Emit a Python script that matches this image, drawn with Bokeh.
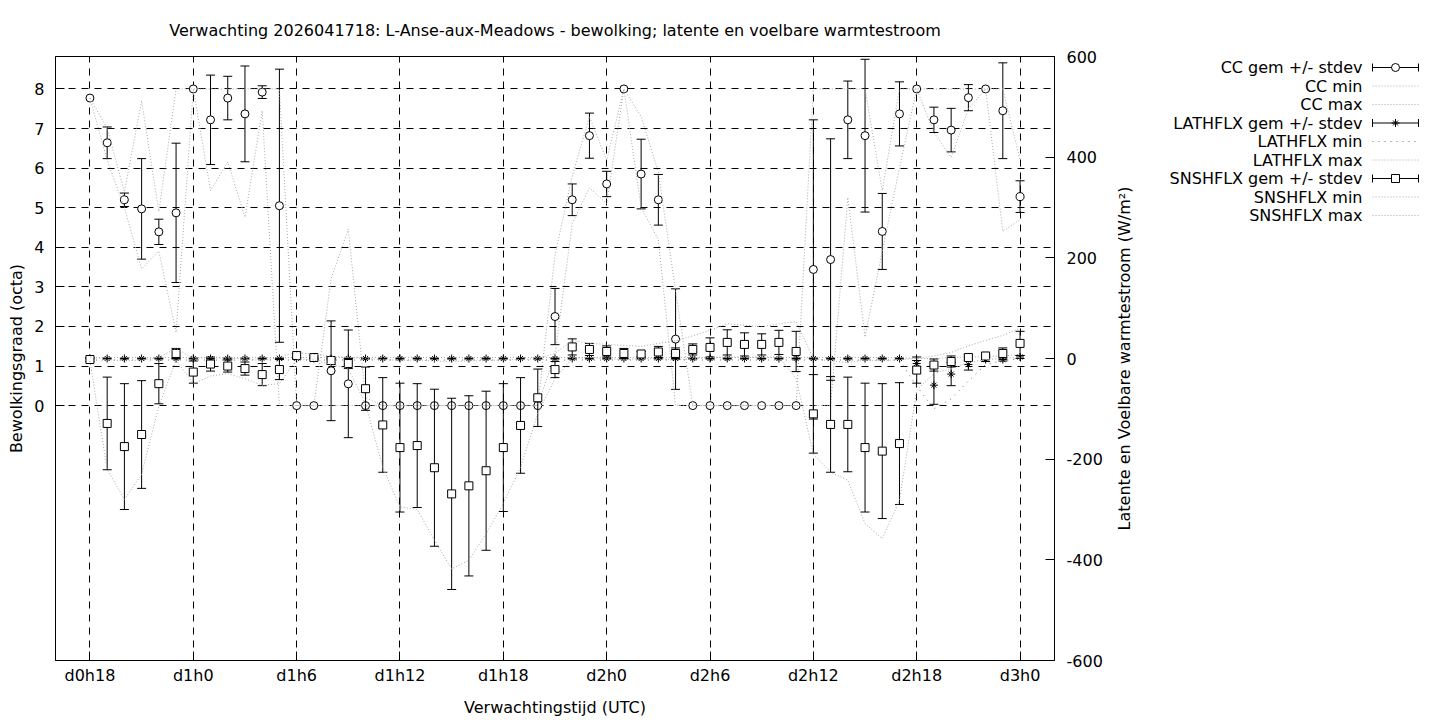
import math
from bokeh.plotting import figure
from bokeh.models import Range1d, LinearAxis, FixedTicker
from bokeh.layouts import row
from bokeh.embed import file_html
from bokeh.resources import INLINE
from bokeh.core.properties import value

# ---------------- data ----------------
hours = list(range(18, 73))
tick_hours = [18, 24, 30, 36, 42, 48, 54, 60, 66, 72]
tick_labels = ["d0h18", "d1h0", "d1h6", "d1h12", "d1h18", "d2h0", "d2h6", "d2h12", "d2h18", "d3h0"]
cc_ticks = [0, 1, 2, 3, 4, 5, 6, 7, 8]
flux_ticks = [-600, -400, -200, 0, 200, 400, 600]
flux_tick_labels = ["-600", "-400", "-200", "0", "200", "400", "600"]

cc_mean = [7.77, 6.64, 5.20, 4.97, 4.39, 4.87, 8.00, 7.22, 7.77, 7.37, 7.92, 5.05, 0.00, 0.00, 0.88, 0.55, 0.00,
           0.00, 0.00, 0.00, 0.00, 0.00, 0.00, 0.00, 0.00, 0.00, 0.00,
           2.25, 5.20, 6.82, 5.60, 8.00, 5.85, 5.20, 1.68,
           0.00, 0.00, 0.00, 0.00, 0.00, 0.00, 0.00,
           3.44, 3.69, 7.22, 6.82, 4.40, 7.37, 8.00, 7.22, 6.96, 7.78, 8.00, 7.45, 5.28]
cc_sd = [0.00, 0.40, 0.17, 1.27, 0.32, 1.76, 0.00, 1.13, 0.55, 1.21, 0.16, 3.45, 0.00, 0.00, 1.26, 1.36, 0.00,
         0.00, 0.00, 0.00, 0.00, 0.00, 0.00, 0.00, 0.00, 0.00, 0.00,
         0.71, 0.40, 0.57, 0.32, 0.00, 0.88, 0.64, 1.27,
         0.00, 0.00, 0.00, 0.00, 0.00, 0.00, 0.00,
         3.78, 3.05, 0.98, 1.93, 0.96, 0.81, 0.00, 0.32, 0.55, 0.33, 0.00, 1.21, 0.40]
cc_min = [7.77, 6.20, 5.00, 3.45, 3.90, 1.85, 8.00, 5.43, 6.15, 4.76, 7.45, 0.00, 0.00, 0.00, 0.00, 0.00, 0.00,
          0.00, 0.00, 0.00, 0.00, 0.00, 0.00, 0.00, 0.00, 0.00, 0.00,
          1.30, 4.60, 5.50, 5.10, 8.00, 5.00, 4.20, 0.00,
          0.00, 0.00, 0.00, 0.00, 0.00, 0.00, 0.00,
          0.00, 0.00, 5.26, 1.73, 3.90, 6.00, 8.00, 6.90, 6.27, 7.50, 8.00, 4.40, 4.70]
cc_max = [7.77, 7.00, 5.40, 7.70, 4.90, 8.00, 8.00, 8.00, 8.00, 8.00, 8.00, 8.00, 0.00, 0.00, 3.20, 4.46, 0.20,
          0.00, 0.00, 0.00, 0.00, 0.00, 0.00, 0.00, 0.00, 0.00, 0.00,
          3.80, 5.80, 7.30, 6.20, 8.00, 7.30, 5.90, 2.90,
          0.00, 0.00, 0.00, 0.00, 0.00, 0.00, 0.00,
          8.00, 8.00, 8.00, 8.00, 5.43, 8.00, 8.00, 8.00, 8.00, 8.00, 8.00, 8.00, 6.20]

lat_mean = [0, 0, 0, 0, 0, 0, 0, 0, 0, 0, 0, 0, 0, 0, 0, 0, 0,
            0, 0, 0, 0, 0, 0, 0, 0, 0, 0,
            0, 0, 0, 0, 0, 0, 0, 0,
            0, 0, 0, 0, 0, 0, 0,
            0, 0, 0, 0, 0, 0, -10, -53, -31, -12, -2, -2, 3]
lat_sd = [1, 1, 1, 1, 1, 1, 1, 1, 1, 1, 1, 1, 1, 1, 1, 1, 1,
          1, 1, 1, 1, 1, 1, 1, 1, 1, 1,
          1, 1, 1, 1, 1, 1, 1, 1,
          1, 1, 1, 1, 1, 1, 1,
          1, 1, 1, 1, 1, 1, 6, 38, 23, 11, 4, 3, 3]
lat_min = [-3, -3, -3, -3, -3, -3, -3, -3, -3, -3, -3, -3, -3, -3, -3, -3, -3,
           -3, -3, -3, -3, -3, -3, -3, -3, -3, -3,
           -3, -3, -3, -3, -3, -3, -3, -3,
           -3, -3, -3, -3, -3, -3, -3,
           -3, -3, -3, -3, -3, -3, -55, -100, -80, -45, -12, -4, -1]
lat_max = [2, 2, 2, 2, 2, 2, 2, 2, 2, 2, 2, 2, 2, 2, 2, 2, 2,
           2, 2, 2, 2, 2, 2, 2, 2, 2, 2,
           2, 2, 2, 2, 2, 2, 2, 2,
           2, 2, 2, 2, 2, 2, 2,
           2, 2, 2, 2, 2, 2, 0, 0, 2, 3, 4, 5, 8]

sns_mean = [-2, -129, -175, -151, -50, 10, -27, -11, -15, -20, -32, -22, 6, 2, -4, -10, -60,
            -132, -177, -173, -217, -269, -253, -223, -177, -133, -78,
            -22, 23, 18, 14, 10, 9, 13, 10,
            18, 22, 32, 28, 28, 32, 14,
            -110, -131, -131, -177, -184, -169, -23, -13, -6, 2, 5, 10, 30]
sns_sd = [4, 92, 125, 107, 40, 10, 22, 14, 12, 13, 22, 20, 4, 3, 8, 10, 43,
          94, 128, 123, 156, 190, 179, 158, 127, 95, 57,
          16, 16, 12, 11, 10, 5, 11, 11,
          11, 19, 25, 23, 21, 24, 40,
          78, 95, 94, 128, 134, 121, 26, 12, 11, 6, 3, 11, 24]
sns_min = [-5, -220, -280, -230, -95, -3, -50, -35, -30, -40, -53, -50, -2, -3, -12, -20, -90,
           -216, -295, -300, -361, -418, -401, -348, -288, -216, -109,
           -40, 0, 2, 0, -2, 0, 0, -3,
           0, 2, 3, 3, 3, 3, -40,
           -190, -226, -242, -328, -358, -282, -63, -30, -20, -8, -2, 0, 2]
sns_max = [3, -2, -5, -3, 2, 20, 0, 2, 0, 0, -5, 3, 12, 8, 5, 2, 0,
           -2, -4, -3, -5, -6, -5, -4, -3, -2, 0,
           10, 36, 30, 28, 26, 24, 30, 35,
           45, 56, 69, 66, 63, 69, 73,
           0, -5, -8, -3, -5, -2, 0, 5, 12, 25, 36, 46, 60]

legend_labels = ["CC gem +/- stdev", "CC min", "CC max",
                 "LATHFLX gem +/- stdev", "LATHFLX min", "LATHFLX max",
                 "SNSHFLX gem +/- stdev", "SNSHFLX min", "SNSHFLX max"]

TITLE = "Verwachting 2026041718: L-Anse-aux-Meadows - bewolking; latente en voelbare warmtestroom"
X_LABEL = "Verwachtingstijd (UTC)"
Y_LABEL = "Bewolkingsgraad (octa)"
Y2_LABEL = "Latente en Voelbare warmtestroom (W/m\u00b2)"
FONT = "DejaVu Sans"
FS = "16px"
GRAY = "#a8a8a8"
DOT = "1 2"
LAT_MIN_COLOR = "#707070"
LAT_MIN_DOT = "1 5"

# layout (page pixels; page margin is 0)
H = 720
F_TOP, F_BOT, F_LEFT, F_RIGHT = 56, 660, 55, 1054
MAIN_W = 1112
LEG_W = 1440 - MAIN_W

# ---------------- main figure ----------------
p = figure(width=MAIN_W, height=H, x_range=Range1d(16, 74), y_range=Range1d(-6.44, 8.82),
           output_backend="svg", toolbar_location=None, title=TITLE,
           min_border_left=F_LEFT, min_border_top=F_TOP,
           min_border_right=MAIN_W - F_RIGHT, min_border_bottom=H - F_BOT)
p.extra_y_ranges = {"flux": Range1d(-600, 600)}
p.background_fill_color = "white"
p.border_fill_color = "white"
p.outline_line_color = "black"
p.outline_line_width = 1

p.title.text_font = FONT
p.title.text_font_size = FS
p.title.text_font_style = "normal"
p.title.text_color = "black"
p.title.align = "center"
p.title.standoff = 34

right_axis = LinearAxis(y_range_name="flux", ticker=FixedTicker(ticks=flux_ticks))
right_axis.major_label_overrides = {t: l for t, l in zip(flux_ticks, flux_tick_labels)}
p.add_layout(right_axis, "right")

p.xaxis.ticker = FixedTicker(ticks=tick_hours)
p.xaxis.major_label_overrides = {h: l for h, l in zip(tick_hours, tick_labels)}
p.xaxis.axis_label = X_LABEL
p.yaxis[0].ticker = FixedTicker(ticks=cc_ticks)
p.yaxis[0].axis_label = Y_LABEL

for ax in [p.xaxis[0], p.yaxis[0], right_axis]:
    ax.major_tick_in = 9
    ax.major_tick_out = 0
    ax.minor_tick_line_color = None
    ax.axis_line_color = "black"
    ax.major_tick_line_color = "black"
    ax.major_label_text_font = FONT
    ax.major_label_text_font_size = FS
    ax.major_label_text_color = "black"
    ax.axis_label_text_font = FONT
    ax.axis_label_text_font_size = FS
    ax.axis_label_text_font_style = "normal"
    ax.axis_label_text_color = "black"

p.xaxis.major_label_standoff = 5
p.xaxis.axis_label_standoff = 10
p.yaxis[0].major_label_standoff = 11
p.yaxis[0].axis_label_standoff = 5
right_axis.major_label_standoff = 12

p.xgrid.ticker = FixedTicker(ticks=tick_hours)
p.ygrid.ticker = FixedTicker(ticks=cc_ticks)
for g in [p.xgrid[0], p.ygrid[0]]:
    g.grid_line_color = "black"
    g.grid_line_dash = "7 6"
    g.grid_line_width = 1


def errorbars(fig, x, mean, sd, rng="default"):
    xs = [h for h, s in zip(x, sd) if s > 0]
    lo = [m - s for m, s in zip(mean, sd) if s > 0]
    hi = [m + s for m, s in zip(mean, sd) if s > 0]
    fig.segment(x0=xs, y0=lo, x1=xs, y1=hi, line_color="black", line_width=1, y_range_name=rng)
    fig.scatter(xs, lo, marker="dash", size=9, line_color="black", line_width=1, y_range_name=rng)
    fig.scatter(xs, hi, marker="dash", size=9, line_color="black", line_width=1, y_range_name=rng)


# CC
errorbars(p, hours, cc_mean, cc_sd)
p.scatter(hours, cc_mean, marker="circle", size=8, line_color="black", fill_color="white", line_width=1)
p.line(hours, cc_min, line_color=GRAY, line_dash=DOT, line_width=1)
p.line(hours, cc_max, line_color=GRAY, line_dash=DOT, line_width=1)

# LATHFLX
errorbars(p, hours, lat_mean, lat_sd, "flux")
p.scatter(hours, lat_mean, marker="cross", size=8, line_color="black", line_width=1, y_range_name="flux")
p.scatter(hours, lat_mean, marker="x", size=7, line_color="black", line_width=1, y_range_name="flux")
p.line(hours, lat_min, line_color=LAT_MIN_COLOR, line_dash=LAT_MIN_DOT, line_width=1, y_range_name="flux")
p.line(hours, lat_max, line_color=GRAY, line_dash=DOT, line_width=1, y_range_name="flux")

# SNSHFLX
errorbars(p, hours, sns_mean, sns_sd, "flux")
p.scatter(hours, sns_mean, marker="square", size=8, line_color="black", fill_color="white", line_width=1,
          y_range_name="flux")
p.line(hours, sns_min, line_color=GRAY, line_dash=DOT, line_width=1, y_range_name="flux")
p.line(hours, sns_max, line_color=GRAY, line_dash=DOT, line_width=1, y_range_name="flux")

# ---------------- side panel: right axis title + legend (data units = page pixels) ----------------
leg = figure(width=LEG_W, height=H, x_range=Range1d(MAIN_W, 1440), y_range=Range1d(F_BOT, F_TOP),
             output_backend="svg", toolbar_location=None, x_axis_location=None, y_axis_location=None,
             min_border_left=0, min_border_right=0, min_border_top=F_TOP, min_border_bottom=H - F_BOT)
leg.grid.visible = False
leg.outline_line_color = None
leg.background_fill_color = "white"
leg.border_fill_color = "white"

leg.text(x=[1124], y=[(F_TOP + F_BOT) / 2], text=[Y2_LABEL], angle=math.pi / 2,
         text_align="center", text_baseline="middle",
         text_font=value(FONT), text_font_size=FS, text_color="black")

n = len(legend_labels)
row_y = [67 + 18.5 * i for i in range(n)]
text_x = [1362] * n
leg.text(x=text_x, y=row_y, text=legend_labels, text_align="right", text_baseline="middle",
         text_font=value(FONT), text_font_size=FS, text_color="black")

x0, x1 = 1372, 1418
xc = (x0 + x1) / 2
err_rows = [row_y[0], row_y[3], row_y[6]]
leg.segment(x0=[x0] * 3, y0=err_rows, x1=[x1] * 3, y1=err_rows, line_color="black", line_width=1)
leg.segment(x0=[x0] * 3, y0=[y - 4 for y in err_rows], x1=[x0] * 3, y1=[y + 4 for y in err_rows],
            line_color="black", line_width=1)
leg.segment(x0=[x1] * 3, y0=[y - 4 for y in err_rows], x1=[x1] * 3, y1=[y + 4 for y in err_rows],
            line_color="black", line_width=1)
leg.scatter([xc], [row_y[0]], marker="circle", size=8, line_color="black", fill_color="white")
leg.scatter([xc], [row_y[3]], marker="cross", size=8, line_color="black")
leg.scatter([xc], [row_y[3]], marker="x", size=7, line_color="black")
leg.scatter([xc], [row_y[6]], marker="square", size=8, line_color="black", fill_color="white")

for i in [1, 2, 5, 7, 8]:
    leg.line([x0, x1], [row_y[i], row_y[i]], line_color=GRAY, line_dash=DOT, line_width=1)
leg.line([x0, x1], [row_y[4], row_y[4]], line_color=LAT_MIN_COLOR, line_dash=LAT_MIN_DOT, line_width=1)

layout = row(p, leg)
open("out.html", "w").write(file_html(layout, INLINE))
